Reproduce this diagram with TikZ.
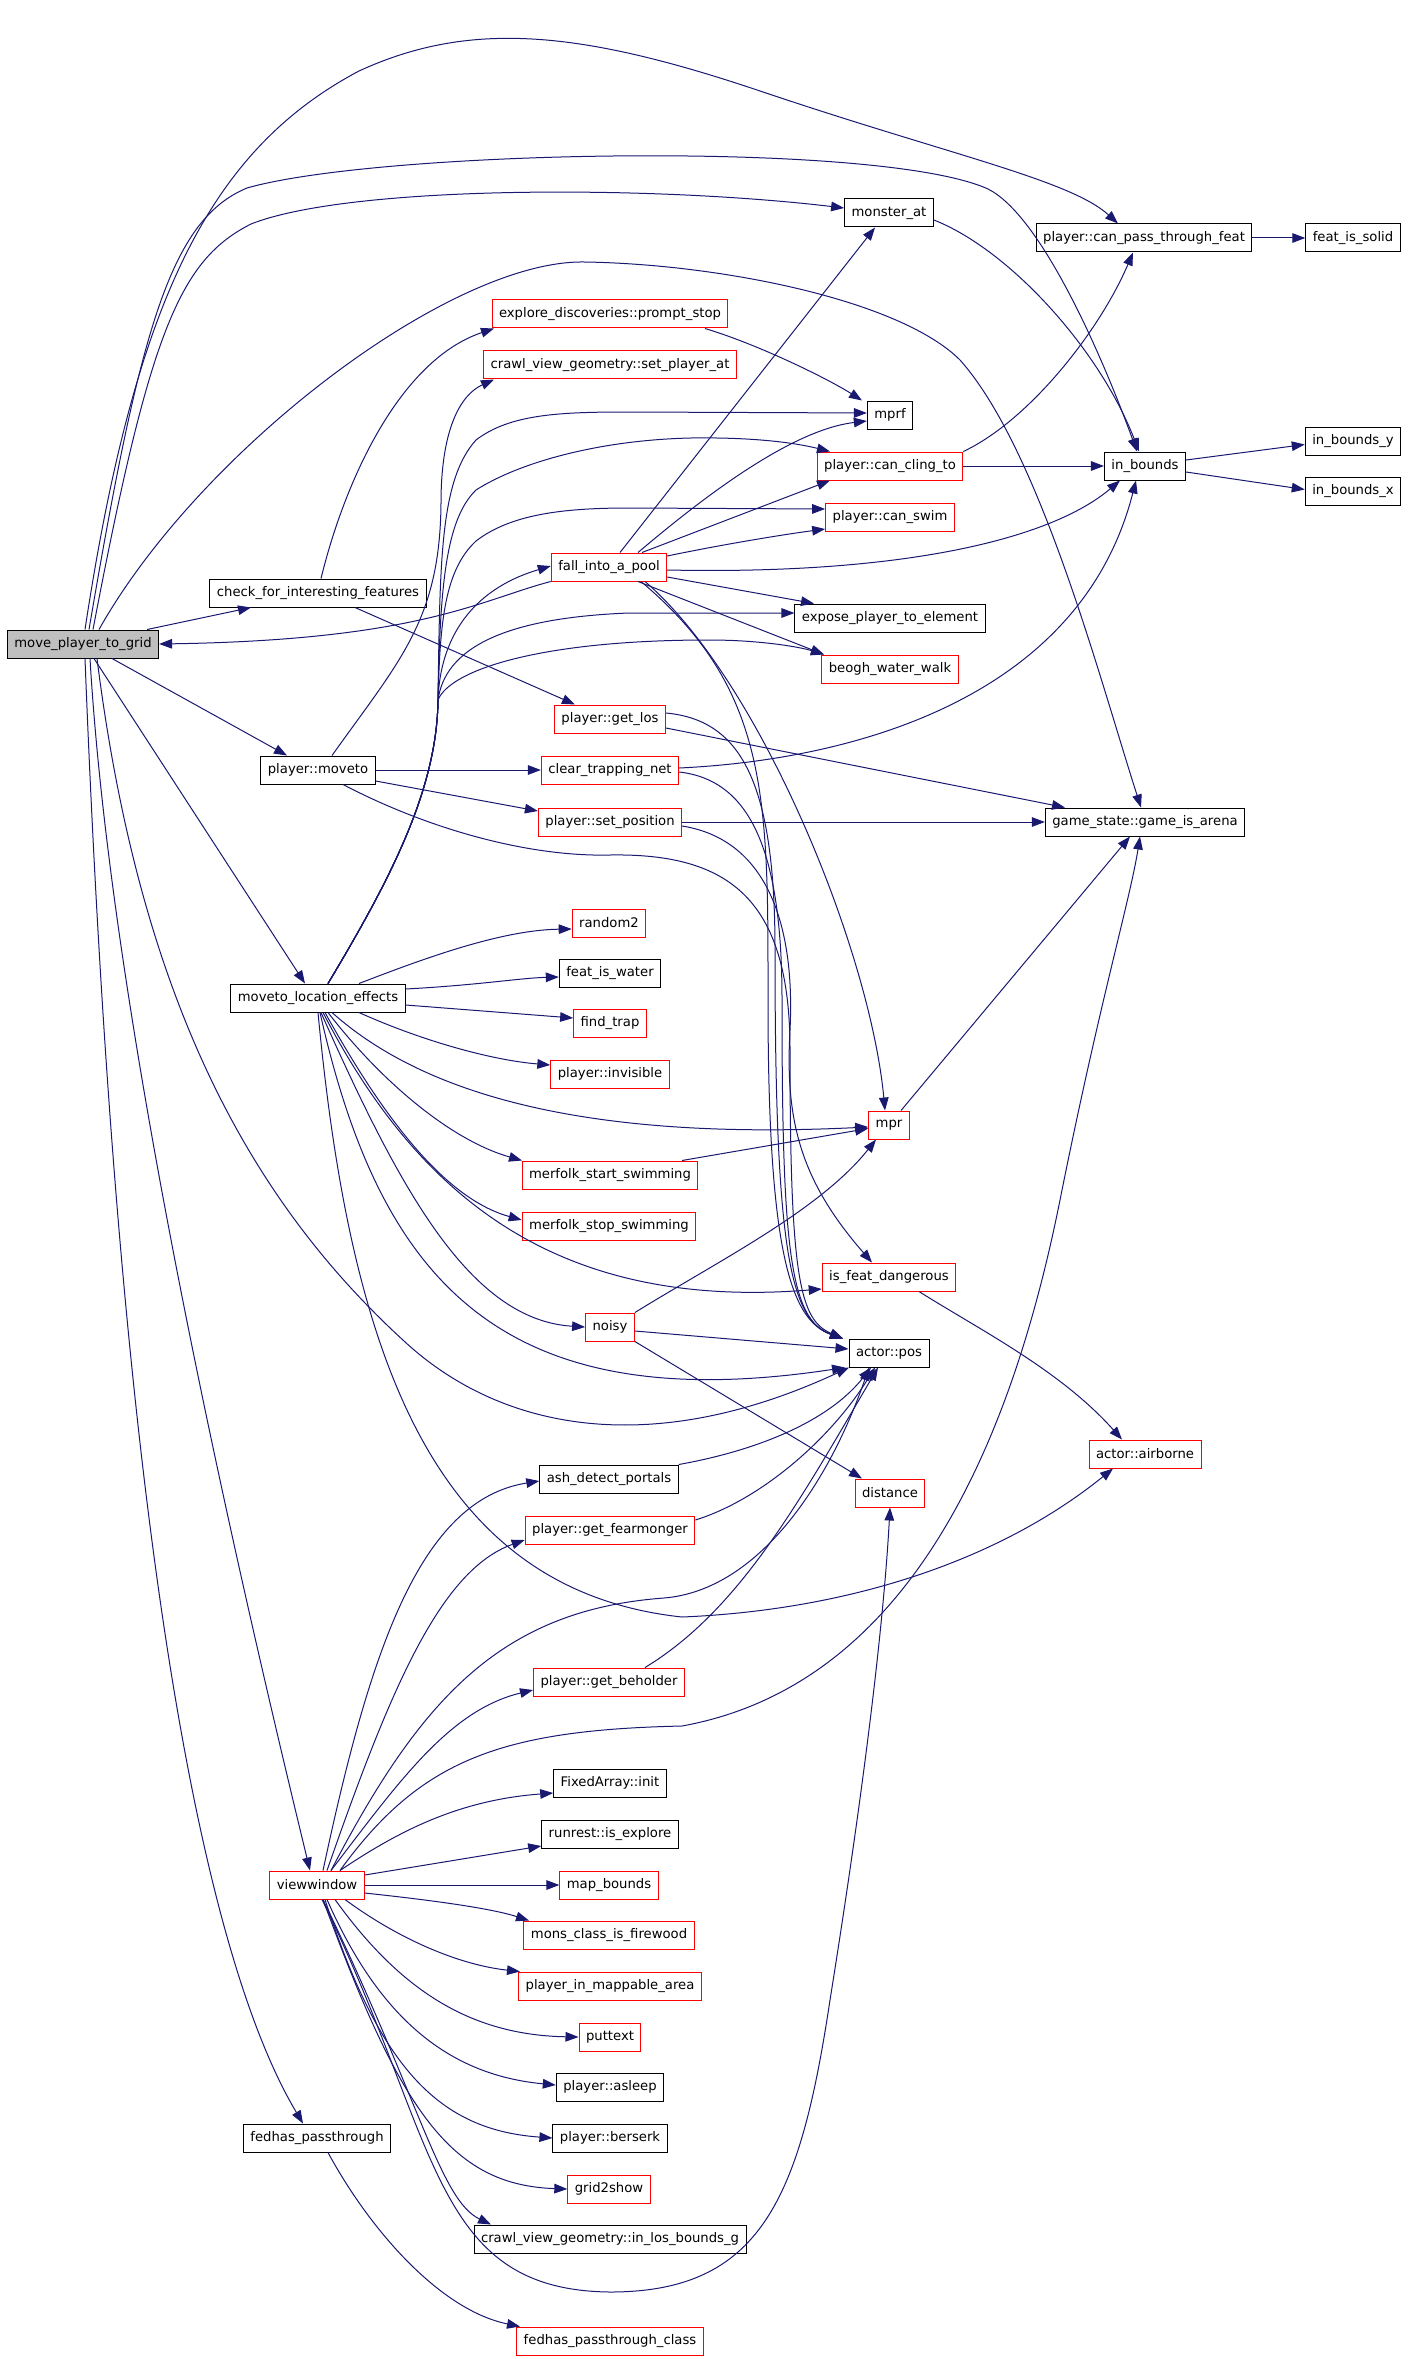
\documentclass[tikz,border=0pt]{standalone}
\usepackage{fontspec}
\setmainfont{DejaVu Sans}
\usetikzlibrary{arrows.meta}
\definecolor{callblue}{HTML}{191970}
\tikzset{
  func/.style={draw=black, line width=0.5pt, minimum height=14pt, inner xsep=3.5pt, inner ysep=0pt, font=\fontsize{6.6}{8}\selectfont},
  funcred/.style={func, draw=red},
  funcroot/.style={func, fill=black!25},
  call/.style={draw=callblue, line width=0.5pt, -{Triangle[length=6.5pt,width=4.8pt]}}
}
\begin{document}
\begin{tikzpicture}[x=0.5pt, y=-0.5pt]
\useasboundingbox (0,0) rectangle (1408,2359);
\node[funcroot] (movegrid) at (83,644) {move\_player\_to\_grid};
\node[func] (checkfeat) at (318,593) {check\_for\_interesting\_features};
\node[func] (moveto) at (318,770) {player::moveto};
\node[func] (locfx) at (318,998) {moveto\_location\_effects};
\node[funcred] (viewwin) at (317,1885) {viewwindow};
\node[func] (fedhas) at (317,2138) {fedhas\_passthrough};
\node[func] (monsterat) at (889,213) {monster\_at};
\node[func] (passfeat) at (1144,238) {player::can\_pass\_through\_feat};
\node[func] (featsolid) at (1353,238) {feat\_is\_solid};
\node[funcred] (promptstop) at (610,314) {explore\_discoveries::prompt\_stop};
\node[funcred] (setplayerat) at (610,365) {crawl\_view\_geometry::set\_player\_at};
\node[func] (mprf) at (890,415) {mprf};
\node[funcred] (cling) at (890,466) {player::can\_cling\_to};
\node[func] (inbounds) at (1145,466) {in\_bounds};
\node[func] (inboundsy) at (1353,441) {in\_bounds\_y};
\node[func] (inboundsx) at (1353,491) {in\_bounds\_x};
\node[funcred] (canswim) at (890,517) {player::can\_swim};
\node[funcred] (pool) at (609,567) {fall\_into\_a\_pool};
\node[func] (expose) at (890,618) {expose\_player\_to\_element};
\node[funcred] (beogh) at (890,669) {beogh\_water\_walk};
\node[funcred] (getlos) at (610,719) {player::get\_los};
\node[funcred] (clearnet) at (610,770) {clear\_trapping\_net};
\node[funcred] (setpos) at (610,822) {player::set\_position};
\node[func] (arena) at (1145,822) {game\_state::game\_is\_arena};
\node[funcred] (random) at (609,923) {random2};
\node[func] (featwater) at (610,973) {feat\_is\_water};
\node[funcred] (findtrap) at (610,1023) {find\_trap};
\node[funcred] (invisible) at (610,1074) {player::invisible};
\node[funcred] (mpr) at (889,1125) {mpr};
\node[funcred] (swimstart) at (610,1175) {merfolk\_start\_swimming};
\node[funcred] (swimstop) at (609,1226) {merfolk\_stop\_swimming};
\node[funcred] (dangerous) at (889,1277) {is\_feat\_dangerous};
\node[funcred] (noisy) at (610,1327) {noisy};
\node[func] (actorpos) at (889,1353) {actor::pos};
\node[funcred] (airborne) at (1145,1454) {actor::airborne};
\node[func] (ashportals) at (609,1479) {ash\_detect\_portals};
\node[funcred] (distance) at (890,1493) {distance};
\node[funcred] (fearmonger) at (610,1530) {player::get\_fearmonger};
\node[funcred] (beholder) at (609,1682) {player::get\_beholder};
\node[func] (fixedinit) at (610,1783) {FixedArray::init};
\node[func] (isexplore) at (610,1834) {runrest::is\_explore};
\node[funcred] (mapbounds) at (609,1885) {map\_bounds};
\node[funcred] (firewood) at (609,1935) {mons\_class\_is\_firewood};
\node[funcred] (mappable) at (610,1986) {player\_in\_mappable\_area};
\node[funcred] (puttext) at (610,2037) {puttext};
\node[func] (asleep) at (610,2087) {player::asleep};
\node[func] (berserk) at (610,2138) {player::berserk};
\node[funcred] (grid2show) at (609,2189) {grid2show};
\node[func] (inlos) at (610,2239) {crawl\_view\_geometry::in\_los\_bounds\_g};
\node[funcred] (fedhasclass) at (610,2341) {fedhas\_passthrough\_class};

\draw[call] ([xshift=1pt]movegrid.north) .. controls (135,300) and (210,150) .. (359,71) .. controls (470,20) and (580,30) .. (763,92) .. controls (950,155) and (1070,180) .. ([xshift=-13pt]passfeat.north);
\draw[call] ([xshift=3pt]movegrid.north) .. controls (140,330) and (170,220) .. (247,188) .. controls (380,150) and (880,140) .. (988,189) .. controls (1040,215) and (1100,350) .. ([xshift=-4pt]inbounds.north);
\draw[call] ([xshift=5pt]movegrid.north) .. controls (150,330) and (180,260) .. (251,224) .. controls (350,185) and (650,185) .. ([yshift=2.5pt]monsterat.west);
\draw[call] ([xshift=8pt]movegrid.north) .. controls (200,450) and (450,260) .. (584,262) .. controls (720,264) and (900,300) .. (960,360) .. controls (1040,450) and (1100,680) .. ([xshift=-2pt]arena.north);
\draw[call] ([xshift=-6pt]movegrid.north east) -- ([xshift=-33.5pt]checkfeat.south);
\draw[call] ([xshift=14.5pt]movegrid.south) -- ([xshift=-15.5pt]moveto.north);
\draw[call] ([xshift=5.5pt]movegrid.south) -- ([xshift=-6.5pt]locfx.north);
\draw[call] ([xshift=3.5pt]movegrid.south) .. controls (110,1000) and (220,1500) .. ([xshift=-3.5pt]viewwin.north);
\draw[call] ([xshift=1pt]movegrid.south) .. controls (110,1300) and (170,1900) .. ([xshift=-7pt]fedhas.north);
\draw[call] ([xshift=7pt]movegrid.south) .. controls (140,1000) and (250,1200) .. (404,1341) .. controls (500,1430) and (650,1460) .. ([xshift=-20pt]actorpos.south);

\draw[call] ([xshift=1.5pt]checkfeat.north) .. controls (345,480) and (400,360) .. ([xshift=-58pt]promptstop.south);
\draw[call] ([xshift=18.5pt]checkfeat.south) -- ([xshift=-17.5pt]getlos.north);

\draw[call] (moveto.east) -- (clearnet.west);
\draw[call] ([yshift=-5.5pt]moveto.east) -- ([yshift=5.5pt]setpos.west);
\draw[call] ([xshift=7pt]moveto.north) .. controls (400,660) and (440,620) .. (441,503) .. controls (441,430) and (460,395) .. ([xshift=-58pt]setplayerat.south);
\draw[call] ([xshift=12.5pt]moveto.south) .. controls (430,830) and (530,857) .. (610,855) .. controls (730,853) and (790,900) .. (790,1050) .. controls (790,1280) and (800,1320) .. ([xshift=-23pt]actorpos.north);

\draw[call] ([yshift=3pt]getlos.east) .. controls (740,720) and (775,780) .. (775,950) .. controls (775,1250) and (790,1320) .. ([xshift=-23pt]actorpos.north);
\draw[call] ([yshift=-4.5pt]getlos.east) -- ([xshift=-40pt]arena.north);
\draw[call] ([yshift=-1pt]clearnet.east) .. controls (750,780) and (782,850) .. (782,1000) .. controls (782,1250) and (790,1320) .. ([xshift=-23pt]actorpos.north);
\draw[call] ([yshift=1pt]clearnet.east) .. controls (850,760) and (1080,700) .. ([xshift=-4.5pt]inbounds.south);
\draw[call] (setpos.east) -- (arena.west);
\draw[call] ([yshift=-2pt]setpos.east) .. controls (770,840) and (795,930) .. (790,1030) .. controls (785,1120) and (800,1180) .. ([xshift=-8.5pt]dangerous.north);

\draw[call] (pool.south west) .. controls (480,600) and (420,640) .. (movegrid.east);
\draw[call] ([xshift=5.5pt]pool.north) -- ([xshift=-7pt]monsterat.south);
\draw[call] ([xshift=14.5pt]pool.north) .. controls (700,500) and (790,430) .. ([yshift=-3pt]mprf.west);
\draw[call] ([xshift=16.5pt]pool.north) -- ([xshift=-30pt]cling.south);
\draw[call] ([yshift=5.5pt]pool.east) .. controls (720,545) and (780,535) .. ([yshift=-6pt]canswim.west);
\draw[call] ([yshift=-1.5pt]pool.east) .. controls (900,575) and (1050,540) .. ([xshift=-12.5pt]inbounds.south);
\draw[call] ([yshift=-5pt]pool.east) -- ([xshift=-38pt]expose.north);
\draw[call] ([xshift=14.5pt]pool.south) -- ([xshift=-33pt]beogh.north);
\draw[call] ([xshift=18pt]pool.south) .. controls (760,680) and (870,950) .. ([xshift=-2pt]mpr.north);
\draw[call] ([xshift=16pt]pool.south) .. controls (770,690) and (768,800) .. (768,1000) .. controls (768,1250) and (790,1320) .. ([xshift=-23pt]actorpos.north);

\draw[call] ([yshift=-3.5pt]monsterat.east) .. controls (1010,250) and (1100,350) .. ([xshift=-3pt]inbounds.north);
\draw[call] (passfeat.east) -- (featsolid.west);
\draw[call] (cling.north east) .. controls (1030,420) and (1100,330) .. ([xshift=-5.5pt]passfeat.south);
\draw[call] (cling.east) -- (inbounds.west);
\draw[call] ([yshift=3pt]inbounds.east) -- ([yshift=-1.75pt]inboundsy.west);
\draw[call] ([yshift=-3pt]inbounds.east) -- ([yshift=0.75pt]inboundsx.west);
\draw[call] ([xshift=47.5pt]promptstop.south) .. controls (760,345) and (830,380) .. ([xshift=-14pt]mprf.north);
\draw[call] ([xshift=6pt]mpr.north) -- ([xshift=-7.5pt]arena.south);
\draw[call] ([xshift=15pt]dangerous.south) .. controls (980,1330) and (1060,1370) .. ([xshift=-11.5pt]airborne.north);
\draw[call] (noisy.north east) .. controls (720,1260) and (820,1210) .. ([xshift=-6.5pt]mpr.south);
\draw[call] ([yshift=-2pt]noisy.east) -- ([yshift=2pt]actorpos.west);
\draw[call] (noisy.south east) -- ([xshift=-14pt]distance.north);
\draw[call] ([xshift=36pt]swimstart.north) -- ([yshift=-1.75pt]mpr.west);
\draw[call] (ashportals.north east) .. controls (760,1450) and (830,1420) .. ([xshift=-9pt]actorpos.south);
\draw[call] ([yshift=5pt]fearmonger.east) .. controls (760,1500) and (830,1440) .. ([xshift=-7pt]actorpos.south);
\draw[call] ([xshift=18pt]beholder.north) .. controls (740,1610) and (800,1500) .. ([xshift=-5.5pt]actorpos.south);
\draw[call] ([xshift=5.5pt]fedhas.south) .. controls (370,2230) and (440,2310) .. ([xshift=-45pt]fedhasclass.north);

\draw[call] ([xshift=3pt]viewwin.north) .. controls (370,1650) and (420,1500) .. ([yshift=-1pt]ashportals.west);
\draw[call] ([xshift=5pt]viewwin.north) .. controls (390,1690) and (440,1570) .. ([yshift=-5pt]fearmonger.west);
\draw[call] ([xshift=7pt]viewwin.north) .. controls (400,1780) and (450,1710) .. ([yshift=-4pt]beholder.west);
\draw[call] ([xshift=7pt]viewwin.north) .. controls (420,1700) and (500,1610) .. (664,1598) .. controls (760,1590) and (830,1480) .. ([xshift=-10pt]actorpos.south);
\draw[call] ([xshift=11.5pt]viewwin.north) .. controls (420,1760) and (500,1730) .. (682,1726) .. controls (880,1690) and (1000,1500) .. (1060,1200) .. controls (1100,1000) and (1130,900) .. ([xshift=-2.5pt]arena.south);
\draw[call] ([xshift=11.5pt]viewwin.north) .. controls (400,1830) and (460,1800) .. ([yshift=-5pt]fixedinit.west);
\draw[call] ([yshift=5pt]viewwin.east) -- ([yshift=-6pt]isexplore.west);
\draw[call] (viewwin.east) -- (mapbounds.west);
\draw[call] ([yshift=-4pt]viewwin.east) .. controls (430,1900) and (490,1908) .. ([xshift=-40pt]firewood.north);
\draw[call] ([xshift=14pt]viewwin.south) .. controls (400,1940) and (460,1965) .. ([xshift=-45pt]mappable.north);
\draw[call] ([xshift=9pt]viewwin.south) .. controls (400,1990) and (470,2035) .. (puttext.west);
\draw[call] ([xshift=5pt]viewwin.south) .. controls (380,2020) and (450,2075) .. ([yshift=1pt]asleep.west);
\draw[call] ([xshift=4pt]viewwin.south) .. controls (380,2070) and (440,2130) .. (berserk.west);
\draw[call] ([xshift=3pt]viewwin.south) .. controls (400,2110) and (450,2185) .. (grid2show.west);
\draw[call] ([xshift=3pt]viewwin.south) .. controls (420,2100) and (440,2200) .. ([xshift=-59.5pt]inlos.north);
\draw[call] ([xshift=2.5pt]viewwin.south) .. controls (440,2140) and (430,2290) .. (610,2292) .. controls (760,2292) and (800,2200) .. (830,2000) .. controls (870,1750) and (885,1600) .. (distance.south);

\draw[call] ([xshift=20.5pt]locfx.north) .. controls (420,960) and (500,930) .. ([yshift=-3pt]random.west);
\draw[call] ([yshift=4.5pt]locfx.east) .. controls (480,985) and (520,978) .. ([yshift=-2pt]featwater.west);
\draw[call] ([yshift=-3.5pt]locfx.east) -- ([yshift=2.5pt]findtrap.west);
\draw[call] ([xshift=20.5pt]locfx.south) .. controls (420,1040) and (490,1060) .. ([yshift=4.5pt]invisible.west);
\draw[call] ([xshift=7pt]locfx.south) .. controls (430,1100) and (600,1140) .. ([yshift=-1pt]mpr.west);
\draw[call] ([xshift=5pt]locfx.south) .. controls (380,1080) and (450,1140) .. ([xshift=-44pt]swimstart.north);
\draw[call] ([xshift=3.5pt]locfx.south) .. controls (390,1130) and (450,1200) .. ([yshift=3pt]swimstop.west);
\draw[call] ([xshift=2.5pt]locfx.south) .. controls (420,1200) and (560,1310) .. ([yshift=-6pt]dangerous.west);
\draw[call] ([xshift=1.5pt]locfx.south) .. controls (400,1190) and (470,1320) .. (noisy.west);
\draw[call] ([xshift=1pt]locfx.south) .. controls (380,1280) and (500,1420) .. ([xshift=-22pt]actorpos.south);
\draw[call] (locfx.south) .. controls (350,1350) and (430,1590) .. (682,1617) .. controls (850,1610) and (1000,1560) .. ([xshift=-16pt]airborne.south);

\draw[call] ([xshift=5pt]locfx.north) .. controls (390,880) and (437,790) .. (438,700) .. controls (440,560) and (440,480) .. (476,440) .. controls (510,414) and (560,412) .. (629,412) -- ([yshift=1pt]mprf.west);
\draw[call] ([xshift=5pt]locfx.north) .. controls (390,880) and (437,790) .. (438,700) .. controls (440,590) and (445,520) .. (476,490) .. controls (520,462) and (600,440) .. (691,438) .. controls (760,437) and (800,444) .. ([xshift=-30pt]cling.north);
\draw[call] ([xshift=5pt]locfx.north) .. controls (390,880) and (437,790) .. (438,700) .. controls (440,620) and (445,570) .. (476,541) .. controls (510,515) and (560,508) .. (629,508) -- ([yshift=4pt]canswim.west);
\draw[call] ([xshift=5pt]locfx.north) .. controls (390,880) and (437,790) .. (438,700) .. controls (440,640) and (470,590) .. ([yshift=0.5pt]pool.west);
\draw[call] ([xshift=5pt]locfx.north) .. controls (390,880) and (437,790) .. (438,700) .. controls (445,650) and (500,618) .. (629,613) -- ([yshift=2.5pt]expose.west);
\draw[call] ([xshift=5pt]locfx.north) .. controls (390,880) and (437,790) .. (438,700) .. controls (450,670) and (540,640) .. (709,640) .. controls (760,640) and (800,647) .. ([xshift=-33pt]beogh.north);
\end{tikzpicture}
\end{document}
